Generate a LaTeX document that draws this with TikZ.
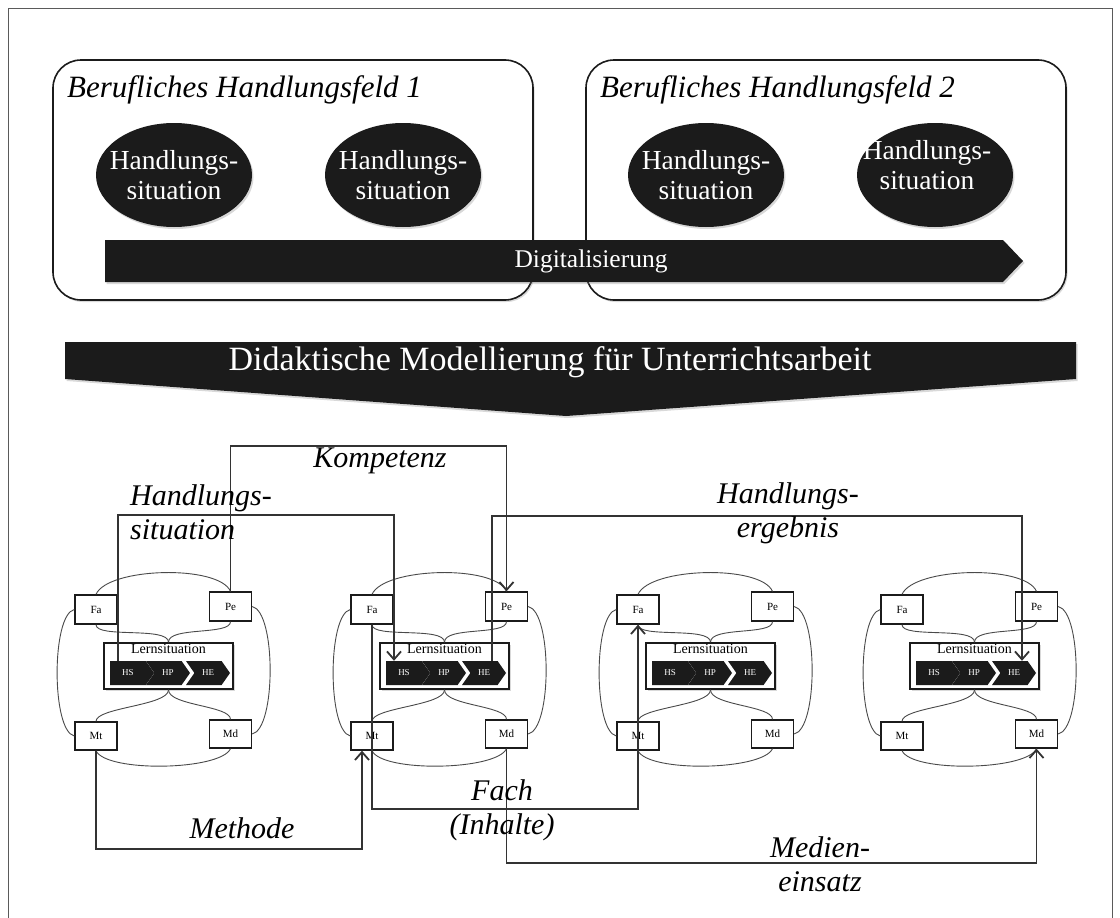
\documentclass[tikz,border=0pt]{standalone}
\usepackage{fontspec}
\setmainfont{Liberation Serif}
\usepackage{tikz}
\usetikzlibrary{arrows.meta,positioning,calc,shapes.geometric,shapes.symbols,shadows}
\definecolor{ink}{HTML}{1B1B1B}
\definecolor{wirec}{HTML}{333333}
\definecolor{tiec}{HTML}{4A4A4A}
\definecolor{framec}{HTML}{5A5A5A}
\tikzset{
  soft/.style={drop shadow={shadow xshift=1.5pt,shadow yshift=-2pt,opacity=.3}},
  field/.style={draw=ink,line width=1.6pt,rounded corners=28pt,fill=white,soft,
    minimum width=480pt,minimum height=240pt,inner sep=0pt},
  ftitle/.style={font=\fontsize{31}{36}\selectfont\itshape,inner sep=0pt,anchor=west},
  hsit/.style={ellipse,fill=ink,minimum width=156pt,minimum height=104pt,inner sep=0pt,soft},
  hsittext/.style={text=white,align=center,font=\fontsize{27.5}{30}\selectfont,inner sep=0pt},
  band/.style={fill=ink,soft},
  bandtext/.style={text=white,inner sep=0pt},
  % --- one Lernsituation cluster (repeated four times) ---
  lsbox/.style={draw=ink,line width=1.6pt,fill=white,minimum width=129pt,
    minimum height=46pt,inner sep=0pt,soft},
  lstext/.style={font=\fontsize{14}{16}\selectfont,inner sep=1pt},
  chev/.style={signal,signal to=east,fill=ink,text=white,font=\fontsize{9}{10}\selectfont,
    minimum width=44pt,minimum height=24pt,inner sep=0pt,signal pointer angle=110},
  chevn/.style={chev,signal from=west},
  pole/.style={draw=ink,line width=1.3pt,fill=white,minimum width=42pt,minimum height=29pt,
    inner sep=0pt,font=\fontsize{11}{12}\selectfont},
  tie/.style={draw=tiec,line width=0.9pt},
  wire/.style={draw=wirec,line width=1.8pt},
  wirea/.style={wire,-{Straight Barb[length=8pt,width=14pt]}},
  wlabel/.style={font=\fontsize{30}{34}\selectfont\itshape,align=center,inner sep=0pt},
}
\begin{document}
\begin{tikzpicture}[x=1pt,y=-1pt]
  \useasboundingbox (0,0) rectangle (1120,918);
  \draw[framec,line width=1pt] (8,918) -- (8,8) -- (1112,8) -- (1112,918);
  % --- the two fields of action ---
  \node[field] (fb1) at (293,180) {};
  \node[field] (fb2) at (826,180) {};
  \node[ftitle] (ft1) at (67,90) {Berufliches Handlungsfeld 1};
  \node[ftitle] (ft2) at (600,90) {Berufliches Handlungsfeld 2};
  \foreach \i/\x in {1/174,2/403,3/706,4/935}
    \node[hsit] (e\i) at (\x,175) {};
  \foreach \i in {1,2,3}
    \node[hsittext] (t\i) at (e\i.center) {Handlungs-\\situation};
  \node[hsittext] (t4) at ([xshift=-8pt,yshift=10pt]e4.center) {Handlungs-\\situation};
  \fill[band] (105,240) -- (1003,240) -- (1023,261) -- (1003,282) -- (105,282) -- cycle;
  \node[bandtext,font=\fontsize{25.5}{28}\selectfont] (dig) at (591,261) {Digitalisierung};
  \fill[band] (65,342) -- (1076,342) -- (1076,379) -- (566,416) -- (65,379) -- cycle;
  \node[bandtext,font=\fontsize{34}{38}\selectfont] (didak) at (550,362)
    {Didaktische Modellierung für Unterrichtsarbeit};
  % --- four clusters ---
  \foreach \i/\dx in {1/0,2/276,3/542,4/806}{
    \node[lsbox] (ls\i) at (168.5+\dx,666) {};
    \node[lstext,below=1pt of ls\i.north] (lt\i) {Lernsituation};
    \node[chev] (hs\i) at (128+\dx,673) {HS};
    \node[chevn] (hp\i) at (168+\dx,673) {HP};
    \node[chevn] (he\i) at (208+\dx,673) {HE};
    \node[pole] (fa\i) at (96+\dx,609.5) {Fa};
    \node[pole] (pe\i) at (230.5+\dx,606.5) {Pe};
    \node[pole,minimum height=28pt] (mt\i) at (96+\dx,736) {Mt};
    \node[pole,minimum height=28pt] (md\i) at (230.5+\dx,734) {Md};
    \draw[tie] (fa\i.north) .. controls +(12,-27) and +(-12,-27) .. (pe\i.north);
    \draw[tie] (fa\i.south) .. controls +(0,14) and +(0,-16) .. (ls\i.north);
    \draw[tie] (pe\i.south) .. controls +(0,14) and +(0,-16) .. (ls\i.north);
    \draw[tie] (ls\i.south) .. controls +(0,16) and +(0,-14) .. (mt\i.north);
    \draw[tie] (ls\i.south) .. controls +(0,16) and +(0,-14) .. (md\i.north);
    \draw[tie] (mt\i.south) .. controls +(10,22) and +(-10,22) .. (md\i.south);
    \draw[tie] (fa\i.west) .. controls +(-23,5) and +(-23,-5) .. (mt\i.west);
    \draw[tie] (pe\i.east) .. controls +(24,5) and +(24,-5) .. (md\i.east);
  }
  % --- links between the clusters ---
  \draw[wirea] ([xshift=-10pt]hs1.north) -- ++(0,-146) -| ([xshift=-10pt]hs2.north);
  \draw[wirea] (pe1.north) -- ++(0,-145) -| (pe2.north);
  \draw[wirea] ([xshift=8pt]he2.north) -- ++(0,-145) -| ([xshift=8pt]he4.north);
  \draw[wirea] (mt1.south) -- ++(0,98) -| ([xshift=-10pt]mt2.south);
  \draw[wirea] (fa2.south) -- ++(0,184) -| (fa3.south);
  \draw[wirea] (md2.south) -- ++(0,114) -| (md4.south);
  \node[wlabel,anchor=west,align=left] (lsit) at (130,512) {Handlungs-\\situation};
  \node[wlabel] (lkomp) at (380,461) {Kompetenz};
  \node[wlabel] (lerg) at (788,513) {Handlungs-\\ergebnis};
  \node[wlabel] (lmeth) at (242,828) {Methode};
  \node[wlabel] (lfach) at (502,810) {Fach\\(Inhalte)};
  \node[wlabel] (lmed) at (820,864) {Medien-\\einsatz};
\end{tikzpicture}
\end{document}
